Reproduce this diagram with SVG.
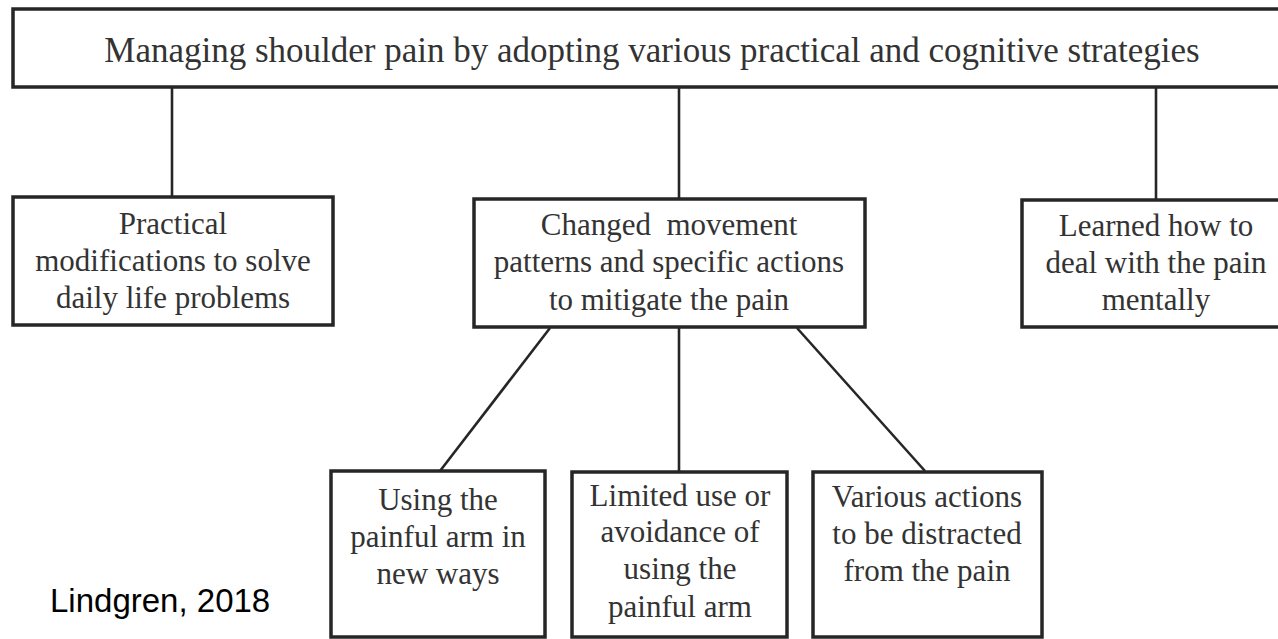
<svg xmlns="http://www.w3.org/2000/svg" width="1278" height="639" viewBox="0 0 1278 639">
  <style>
    .box { fill: #ffffff; stroke: #262626; stroke-width: 3.5; }
    .edge { stroke: #262626; stroke-width: 2.6; fill: none; }
    .lbl { font-family: "Liberation Serif", "Times New Roman", serif; font-size: 31px; fill: #333333; text-anchor: middle; }
    .title { font-size: 35px; }
    .cite { font-family: "Liberation Sans", Arial, sans-serif; font-size: 33px; fill: #000000; }
  </style>
  <rect width="1278" height="639" fill="#ffffff"/>

  <!-- connectors -->
  <g id="connectors">
    <line class="edge" x1="172" y1="87" x2="172" y2="196"/>
    <line class="edge" x1="679" y1="87" x2="679" y2="198"/>
    <line class="edge" x1="1156" y1="87" x2="1156" y2="199"/>
    <line class="edge" x1="550" y1="328" x2="440" y2="471"/>
    <line class="edge" x1="679" y1="328" x2="679" y2="471"/>
    <line class="edge" x1="797" y1="328" x2="925" y2="471"/>
  </g>

  <!-- root -->
  <g id="root">
    <rect class="box" x="13" y="9" width="1290" height="78"/>
    <text class="lbl title" x="652" y="62">Managing shoulder pain by adopting various practical and cognitive strategies</text>
  </g>

  <!-- second level -->
  <g id="practical">
    <rect class="box" x="13" y="197" width="320" height="128"/>
    <text class="lbl" x="173" y="234">Practical</text>
    <text class="lbl" x="173" y="271">modifications to solve</text>
    <text class="lbl" x="173" y="308">daily life problems</text>
  </g>

  <g id="movement">
    <rect class="box" x="474" y="199" width="391" height="128"/>
    <text class="lbl" x="669" y="235">Changed&#160; movement</text>
    <text class="lbl" x="669" y="272">patterns and specific actions</text>
    <text class="lbl" x="669" y="310">to mitigate the pain</text>
  </g>

  <g id="mental">
    <rect class="box" x="1022" y="200" width="280" height="127"/>
    <text class="lbl" x="1156" y="236">Learned how to</text>
    <text class="lbl" x="1156" y="273">deal with the pain</text>
    <text class="lbl" x="1156" y="310">mentally</text>
  </g>

  <!-- third level -->
  <g id="new-ways">
    <rect class="box" x="331" y="471" width="214" height="166"/>
    <text class="lbl" x="438" y="510">Using the</text>
    <text class="lbl" x="438" y="547">painful arm in</text>
    <text class="lbl" x="438" y="584">new ways</text>
  </g>

  <g id="avoidance">
    <rect class="box" x="572" y="472" width="215" height="165"/>
    <text class="lbl" x="680" y="506">Limited use or</text>
    <text class="lbl" x="680" y="542">avoidance of</text>
    <text class="lbl" x="680" y="579">using the</text>
    <text class="lbl" x="680" y="617">painful arm</text>
  </g>

  <g id="distraction">
    <rect class="box" x="813" y="472" width="229" height="165"/>
    <text class="lbl" x="927" y="507">Various actions</text>
    <text class="lbl" x="927" y="544">to be distracted</text>
    <text class="lbl" x="927" y="581">from the pain</text>
  </g>

  <text class="cite" x="50" y="612">Lindgren, 2018</text>
</svg>
